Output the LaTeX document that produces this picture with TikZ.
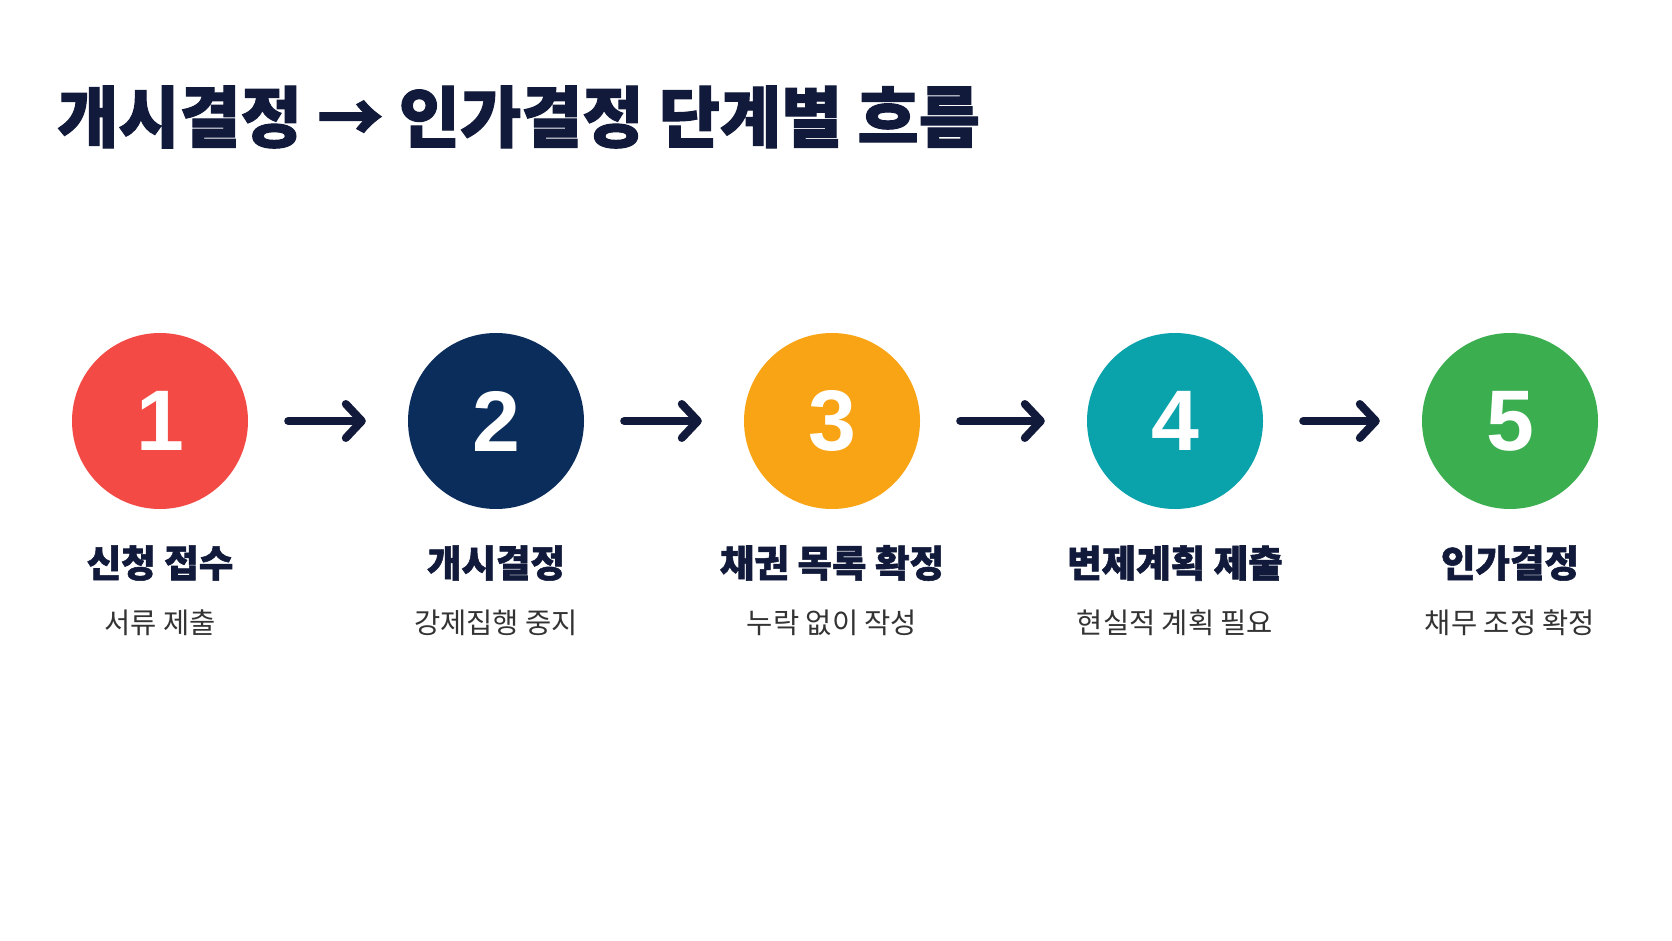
\documentclass[tikz,border=0pt]{standalone}
\usepackage{fontspec}
\setmainfont{Noto Sans CJK KR}
\newfontfamily\heavyfont[BoldFeatures={FakeBold=1.5}]{Noto Sans CJK KR}
\newfontfamily\numfont{Liberation Sans}
\usetikzlibrary{arrows.meta}
\definecolor{ink}{HTML}{111A3A}
\definecolor{sub}{HTML}{333333}
\definecolor{cred}{HTML}{F44A46}
\definecolor{cnavy}{HTML}{0B2D5B}
\definecolor{corange}{HTML}{F9A414}
\definecolor{cteal}{HTML}{0AA2AB}
\definecolor{cgreen}{HTML}{3BAE50}
\tikzset{
  stepcircle/.style={circle, minimum size=176pt, inner sep=0pt, text=white,
    font=\numfont\bfseries\fontsize{86}{86}\selectfont},
  steptitle/.style={inner sep=0pt, text=ink, font=\heavyfont\bfseries\fontsize{37.5}{37.5}\selectfont},
  stepsub/.style={inner sep=0pt, text=sub, font=\fontsize{28.5}{28.5}\selectfont},
  flow/.style={draw=ink, line width=8pt, line cap=round,
    -{Straight Barb[length=16pt, width=34pt, round]},
    shorten <=40pt, shorten >=42pt}
}
\begin{document}
\begin{tikzpicture}[x=1pt,y=-1pt]
\fill[white] (0,0) rectangle (1672,941);
\useasboundingbox (0,0) rectangle (1672,941);
\node[anchor=west, inner sep=0pt, text=ink, font=\heavyfont\bfseries\fontsize{66.5}{66.5}\selectfont] (title) at (57,117) {개시결정 → 인가결정 단계별 흐름};

\node[stepcircle, fill=cred] (c1) at (160,421) {1};
\node[stepcircle, fill=cnavy] (c2) at (496,421) {2};
\node[stepcircle, fill=corange] (c3) at (832,421) {3};
\node[stepcircle, fill=cteal] (c4) at (1175,421) {4};
\node[stepcircle, fill=cgreen] (c5) at (1510,421) {5};

\node[steptitle] (t1) at (160,563) {신청 접수};
\node[steptitle] (t2) at (496,563) {개시결정};
\node[steptitle] (t3) at (832,563) {채권 목록 확정};
\node[steptitle] (t4) at (1175,563) {변제계획 제출};
\node[steptitle] (t5) at (1510,563) {인가결정};

\node[stepsub] (s1) at (160,623) {서류 제출};
\node[stepsub] (s2) at (496,623) {강제집행 중지};
\node[stepsub] (s3) at (832,623) {누락 없이 작성};
\node[stepsub] (s4) at (1175,623) {현실적 계획 필요};
\node[stepsub] (s5) at (1510,623) {채무 조정 확정};

\draw[flow] (c1) -- (c2);
\draw[flow] (c2) -- (c3);
\draw[flow] (c3) -- (c4);
\draw[flow] (c4) -- (c5);
\end{tikzpicture}
\end{document}
